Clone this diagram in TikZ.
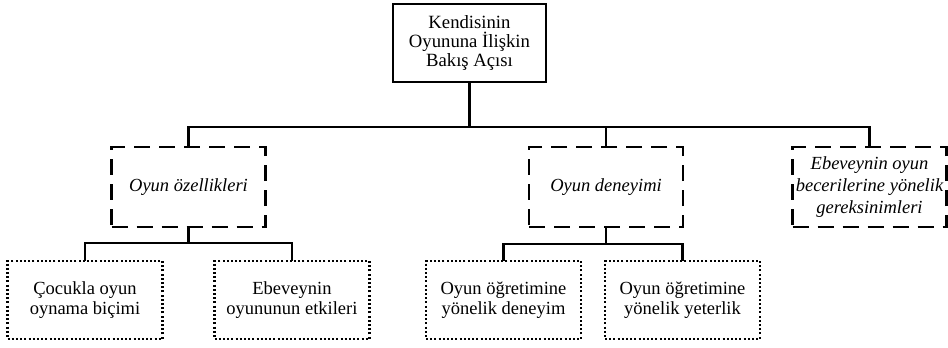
\documentclass[tikz,border=0pt]{standalone}
\usepackage{fontspec}
\setmainfont{Liberation Serif}
\usetikzlibrary{positioning}
\tikzset{box/.style = {draw, line width = 2.2pt, inner sep = 0, outer sep = 0, align = center, font = \fontsize{18.5}{20}\selectfont},
         topbox/.style = {box, minimum width = 153pt, minimum height = 78pt, font = \fontsize{18.7}{19}\selectfont},
         dashbox/.style = {box, dash pattern = on 16pt off 9pt, minimum width = 154pt, minimum height = 80pt, font = \fontsize{18.5}{22}\selectfont\itshape},
         dotbox/.style = {box, dash pattern = on 2pt off 2.2pt, minimum width = 155pt, minimum height = 78pt},
         link/.style = {line width = 2.2pt}}

\begin{document}
\begin{tikzpicture}[x=1pt, y=-1pt]
\useasboundingbox (0, 0) rectangle (948, 348);

      \node [topbox] (bakis) at (469.5, 43) {Kendisinin\\Oyununa İlişkin\\Bakış Açısı};

      \node [dashbox] (ozellik) at (188.5, 187) {Oyun özellikleri};
      \node [dashbox] (deneyim) at (606, 187) {Oyun deneyimi};
      \node [dashbox] (gereksinim) at (869.5, 187) {Ebeveynin oyun\\becerilerine yönelik\\gereksinimleri};

      \node [dotbox] (bicim) at (85, 300) {Çocukla oyun\\oynama biçimi};
      \node [dotbox] (etki) at (292, 300) {Ebeveynin\\oyununun etkileri};
      \node [dotbox] (ogrdeneyim) at (503.5, 300) {Oyun öğretimine\\yönelik deneyim};
      \node [dotbox] (ogryeterlik) at (682.5, 300) {Oyun öğretimine\\yönelik yeterlik};

      \coordinate (ustbar) at (0, 127);
      \coordinate (solbar) at (0, 243);
      \coordinate (sagbar) at (0, 244);

      % ust seviye
      \draw [link] (bakis.south) -- (bakis.south |- ustbar);
      \draw [link] (ozellik.north) -- (ozellik.north |- ustbar) -- (gereksinim.north |- ustbar) -- (gereksinim.north);
      \draw [link] (deneyim.north) -- (deneyim.north |- ustbar);

      % alt seviye
      \draw [link] (ozellik.south) -- (ozellik.south |- solbar);
      \draw [link] (bicim.north) -- (bicim.north |- solbar) -- (etki.north |- solbar) -- (etki.north);
      \draw [link] (deneyim.south) -- (deneyim.south |- sagbar);
      \draw [link] (ogrdeneyim.north) -- (ogrdeneyim.north |- sagbar) -- (ogryeterlik.north |- sagbar) -- (ogryeterlik.north);
    \end{tikzpicture}
\end{document}
